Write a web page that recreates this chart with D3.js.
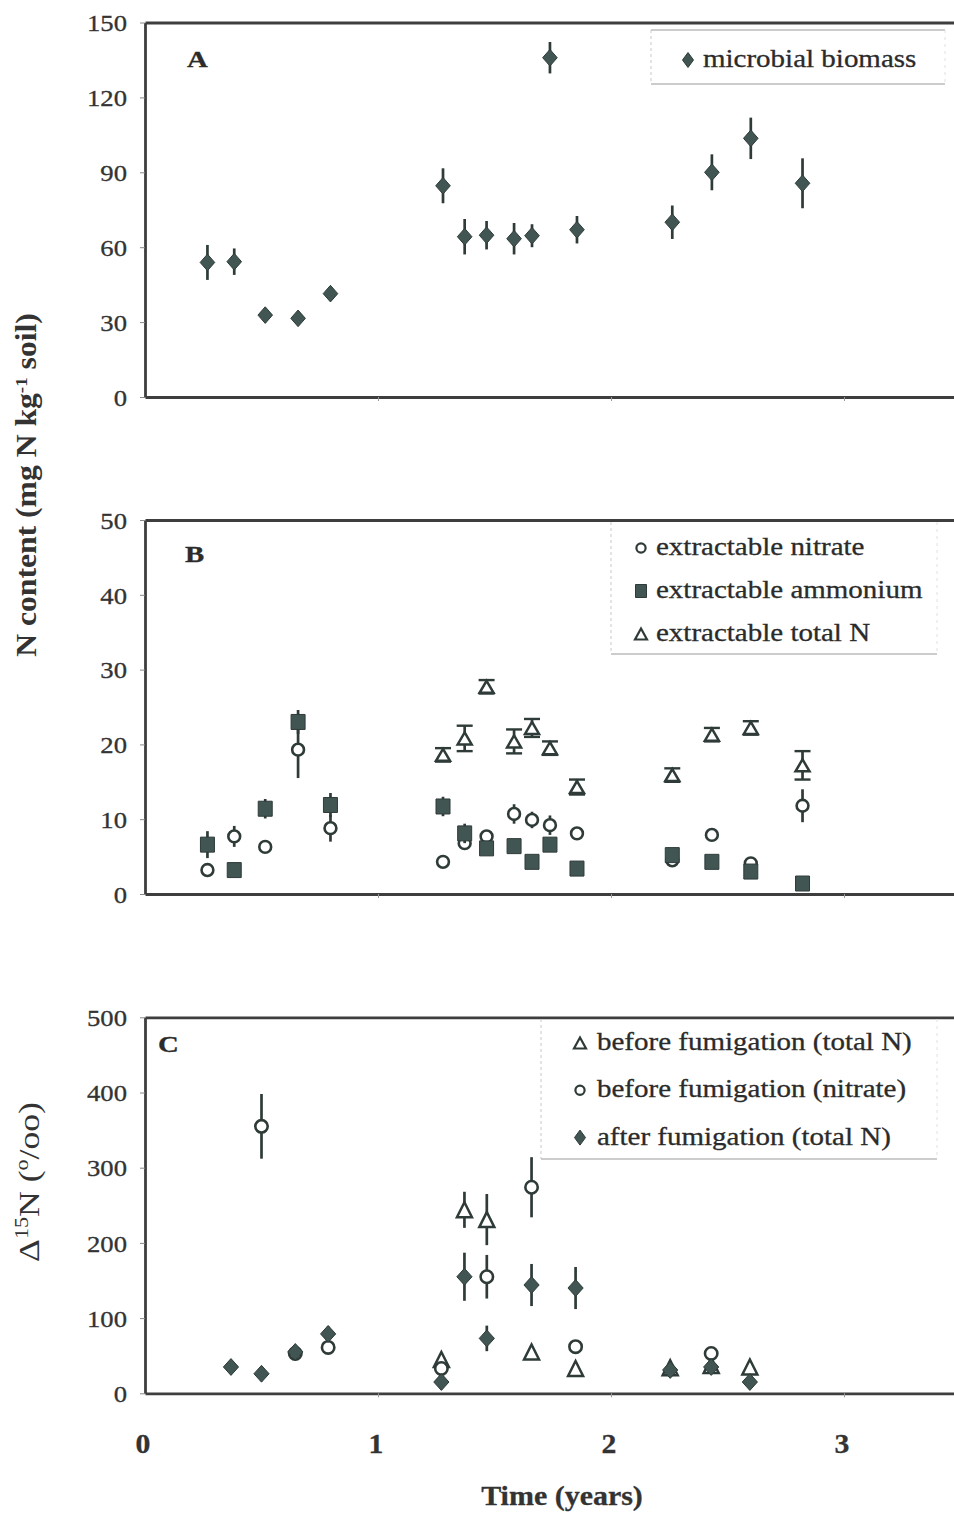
<!DOCTYPE html>
<html><head><meta charset="utf-8">
<script src="https://cdn.jsdelivr.net/npm/d3@7"></script>
<style>body{margin:0;background:#fff} svg{display:block}</style>
</head><body><svg id="c" width="954" height="1517"></svg>
<script>
// ---------- DATA ----------
// Panel A: microbial biomass N (mg N kg-1 soil)
const biomassT   = [0.268, 0.383, 0.516, 0.657, 0.796, 1.279, 1.372, 1.466, 1.584, 1.661, 1.738, 1.854, 2.263, 2.433, 2.600, 2.822];
const biomass    = [53.9, 54.2, 32.8, 31.5, 41.4, 84.6, 64.2, 64.8, 63.4, 64.6, 135.9, 67.0, 70.0, 90.0, 103.6, 85.6];
const biomassErr = [7.0, 5.3, 1.0, 1.0, 2.0, 7.0, 7.1, 5.7, 6.3, 4.6, 6.3, 5.5, 6.7, 7.2, 8.3, 10.0];

// Panel B: extractable N
const extractT     = [0.268, 0.383, 0.516, 0.657, 0.796, 1.279, 1.372, 1.466, 1.584, 1.661, 1.738, 1.854, 2.263, 2.433, 2.600, 2.822];
const nitrate      = [3.2, 7.7, 6.3, 19.3, 8.8, 4.3, 6.8, 7.7, 10.7, 9.9, 9.2, 8.1, 4.5, 7.9, 4.1, 11.8];
const nitrateErr   = [0, 1.4, 0, 3.8, 1.8, 0, 0.6, 0.5, 1.3, 1.1, 1.3, 0.6, 0, 0, 0, 2.2];
const ammonium     = [6.6, 3.2, 11.4, 23.0, 11.9, 11.7, 8.1, 6.1, 6.4, 4.3, 6.6, 3.4, 5.2, 4.3, 3.0, 1.4];
const ammoniumErr  = [1.8, 0, 1.3, 1.6, 1.6, 1.3, 1.3, 0.6, 0, 0, 0, 0, 0, 0, 0, 0];
const totalNT      = [1.279, 1.372, 1.466, 1.584, 1.661, 1.738, 1.854, 2.263, 2.433, 2.600, 2.822];
const totalN       = [18.6, 20.8, 27.7, 20.4, 22.2, 19.5, 14.3, 15.9, 21.3, 22.2, 17.2];
const totalNErr    = [0.9, 1.7, 0.9, 1.6, 1.2, 0.9, 1.0, 0.9, 0.9, 0.9, 1.9];

// Panel C: Δ15N (‰)
const beforeTotalT     = [1.272, 1.371, 1.467, 1.659, 1.848, 2.254, 2.430, 2.596];
const beforeTotal      = [45, 244, 231, 55, 33, 34, 37, 35];
const beforeTotalErr   = [0, 24, 34, 0, 0, 0, 0, 0];
const beforeNitrateT   = [0.500, 0.645, 0.786, 1.272, 1.467, 1.659, 1.848, 2.430];
const beforeNitrate    = [355, 53, 61, 33, 155, 274, 62, 53];
const beforeNitrateErr = [43, 0, 0, 0, 29, 40, 0, 0];
const afterTotalT      = [0.369, 0.500, 0.645, 0.786, 1.272, 1.371, 1.467, 1.659, 1.848, 2.254, 2.430, 2.596];
const afterTotal       = [35, 26, 55, 79, 15, 155, 73, 144, 140, 31, 35, 15];
const afterTotalErr    = [0, 0, 0, 10, 0, 32, 17, 28, 28, 0, 0, 0];

// Ticks and labels
const yTicksA = [0, 30, 60, 90, 120, 150];
const yTicksB = [0, 10, 20, 30, 40, 50];
const yTicksC = [0, 100, 200, 300, 400, 500];
const xTicks  = [0, 1, 2, 3];
const xMinorTicks = [1, 2, 3];
const legendA = ["microbial biomass"];
const legendB = ["extractable nitrate", "extractable ammonium", "extractable total N"];
const legendC = ["before fumigation (total N)", "before fumigation (nitrate)", "after fumigation (total N)"];
const panelLetters = ["A", "B", "C"];
const xTitle = "Time (years)";

// ---------- DRAWING ----------
const svg = d3.select("#c");
const FONT = "'Liberation Serif','Times New Roman',Times,serif";
const SX = 1.16;               // horizontal stretch of the scanned lettering
const INK = "#2e3b39", FILL = "#415552", AX = "#3e3e3e";

const x = d3.scaleLinear().domain([0, 3.5]).range([145, 960.5]);
const yA = d3.scaleLinear().domain([0, 150]).range([397, 22.5]);
const yB = d3.scaleLinear().domain([0, 50]).range([894, 520]);
const yC = d3.scaleLinear().domain([0, 500]).range([1393.3, 1017.3]);

function stext(g, str, px, py, opts = {}) {
  return g.append("text")
    .attr("transform", `translate(${px},${py}) scale(${opts.sx || SX},1)`)
    .attr("font-family", FONT)
    .attr("font-size", opts.size || 25)
    .attr("font-weight", opts.weight || "normal")
    .attr("text-anchor", opts.anchor || "start")
    .attr("fill", opts.fill || "#2b2b2b")
    .attr("stroke", opts.fill || "#2b2b2b").attr("stroke-width", 0.3)
    .text(str);
}

function frame(y, ticks) {
  const g = svg.append("g");
  const ax = d3.axisLeft(y).tickValues(ticks).tickSize(5).tickSizeOuter(0).tickFormat(d3.format("d"));
  const ga = g.append("g").attr("transform", `translate(${x(0)},0)`).call(ax);
  ga.select(".domain").attr("stroke", AX).attr("stroke-width", 2.8);
  ga.selectAll(".tick line").attr("stroke", "#888").attr("stroke-width", 1);
  ga.selectAll(".tick text")
    .attr("x", -18 / SX).attr("dy", "0.36em")
    .attr("transform", `scale(${SX},1)`)
    .attr("font-family", FONT).attr("font-size", 23).attr("fill", "#333")
    .attr("stroke", "#333").attr("stroke-width", 0.3);
  const bx = d3.axisBottom(x).tickValues(xMinorTicks).tickSize(4).tickSizeOuter(0).tickFormat("");
  const gb = g.append("g").attr("transform", `translate(0,${y(ticks[0])})`).call(bx);
  gb.select(".domain").attr("stroke", AX).attr("stroke-width", 2.8);
  gb.selectAll(".tick line").attr("stroke", "#999").attr("stroke-width", 1);
  const tx = d3.axisTop(x).tickValues([]).tickSizeOuter(0);
  const gt = g.append("g").attr("transform", `translate(0,${y(ticks[ticks.length - 1])})`).call(tx);
  gt.select(".domain").attr("stroke", AX).attr("stroke-width", 2.8);
  return g;
}

const gA = frame(yA, yTicksA);
const gB = frame(yB, yTicksB);
const gC = frame(yC, yTicksC);

const diamond = (w, h) => `M0,${-h}L${w},0L0,${h}L${-w},0Z`;
const tri = (w, h) => `M0,${-h / 2}L${w / 2},${h / 2}L${-w / 2},${h / 2}Z`;
const square = (w, h) => `M${-w / 2},${-h / 2}h${w}v${h}h${-w}Z`;

function errBars(g, T, V, E, y, cap) {
  const d = T.map((t, i) => ({ t, v: V[i], e: E[i] })).filter(d => d.e > 0);
  g.selectAll(null).data(d).join("line")
    .attr("x1", d => x(d.t)).attr("x2", d => x(d.t))
    .attr("y1", d => y(d.v - d.e)).attr("y2", d => y(d.v + d.e))
    .attr("stroke", INK).attr("stroke-width", 2.7);
  if (cap) {
    [-1, 1].forEach(sgn => {
      g.selectAll(null).data(d).join("line")
        .attr("x1", d => x(d.t) - cap / 2).attr("x2", d => x(d.t) + cap / 2)
        .attr("y1", d => y(d.v + sgn * d.e)).attr("y2", d => y(d.v + sgn * d.e))
        .attr("stroke", INK).attr("stroke-width", 2.4);
    });
  }
}

function marks(g, T, V, y, path, filled) {
  g.selectAll(null).data(T.map((t, i) => ({ t, v: V[i] }))).join("path")
    .attr("transform", d => `translate(${x(d.t)},${y(d.v)})`)
    .attr("d", path)
    .attr("fill", filled ? FILL : "#fff")
    .attr("stroke", INK)
    .attr("stroke-width", filled ? 1 : 2.5);
}
function circles(g, T, V, y, r) {
  g.selectAll(null).data(T.map((t, i) => ({ t, v: V[i] }))).join("circle")
    .attr("cx", d => x(d.t)).attr("cy", d => y(d.v)).attr("r", r)
    .attr("fill", "#fff").attr("stroke", INK).attr("stroke-width", 2.6);
}

// Panel A
errBars(gA, biomassT, biomass, biomassErr, yA);
marks(gA, biomassT, biomass, yA, diamond(7.3, 8.3), true);

// Panel B
errBars(gB, extractT, nitrate, nitrateErr, yB);
circles(gB, extractT, nitrate, yB, 5.9);
errBars(gB, extractT, ammonium, ammoniumErr, yB);
marks(gB, extractT, ammonium, yB, square(14, 15), true);
errBars(gB, totalNT, totalN, totalNErr, yB, 16);
marks(gB, totalNT, totalN, yB, tri(14, 12), false);

// Panel C
errBars(gC, beforeTotalT, beforeTotal, beforeTotalErr, yC);
marks(gC, beforeTotalT, beforeTotal, yC, tri(15, 15), false);
errBars(gC, beforeNitrateT, beforeNitrate, beforeNitrateErr, yC);
circles(gC, beforeNitrateT, beforeNitrate, yC, 6.2);
errBars(gC, afterTotalT, afterTotal, afterTotalErr, yC);
marks(gC, afterTotalT, afterTotal, yC, diamond(7.6, 8.4), true);

// Panel letters
stext(gA, panelLetters[0], 187, 67, { size: 24, weight: "bold", sx: 1.2 });
stext(gB, panelLetters[1], 185, 562, { size: 24, weight: "bold", sx: 1.2 });
stext(gC, panelLetters[2], 158, 1052, { size: 24, weight: "bold", sx: 1.2 });

// Legends
function legendBox(g, x0, x1, yTop, yBot, drawTop) {
  const s = "#9a9a9a";
  if (drawTop) g.append("line").attr("x1", x0).attr("x2", x1).attr("y1", yTop).attr("y2", yTop).attr("stroke", s).attr("stroke-width", 1.2);
  g.append("line").attr("x1", x0).attr("x2", x1).attr("y1", yBot).attr("y2", yBot).attr("stroke", s).attr("stroke-width", 1.2);
  g.append("line").attr("x1", x0).attr("x2", x0).attr("y1", yTop).attr("y2", yBot).attr("stroke", "#c8c8c8").attr("stroke-width", 1).attr("stroke-dasharray", "3,3");
  g.append("line").attr("x1", x1).attr("x2", x1).attr("y1", yTop).attr("y2", yBot).attr("stroke", "#e0e0e0").attr("stroke-width", 1).attr("stroke-dasharray", "3,4");
}
function legSym(g, kind, cx, cy) {
  if (kind === "circle") g.append("circle").attr("cx", cx).attr("cy", cy).attr("r", 4.6).attr("fill", "#fff").attr("stroke", INK).attr("stroke-width", 2.2);
  else {
    const p = kind === "diamond" ? diamond(5.5, 7.5) : kind === "square" ? square(11, 13) : tri(12, 11);
    g.append("path").attr("transform", `translate(${cx},${cy})`).attr("d", p)
      .attr("fill", kind === "triangle" ? "#fff" : FILL).attr("stroke", INK).attr("stroke-width", kind === "triangle" ? 2.2 : 1);
  }
}
legendBox(gA, 651, 945, 30, 84, true);
legSym(gA, "diamond", 688, 60);
stext(gA, legendA[0], 703, 67);

legendBox(gB, 611, 937, 522, 654, false);
const symB = ["circle", "square", "triangle"];
legendB.forEach((s, i) => {
  legSym(gB, symB[i], 641, 548 + i * 43);
  stext(gB, s, 656, 555 + i * 43);
});

legendBox(gC, 541, 937, 1019, 1159, false);
const symC = ["triangle", "circle", "diamond"];
legendC.forEach((s, i) => {
  legSym(gC, symC[i], 580, 1043 + i * 47.3);
  stext(gC, s, 597, 1050 + i * 47.3);
});

// X tick labels and title
xTicks.forEach(v => stext(svg, String(v), x(v) - 2, 1453, { size: 27, weight: "bold", anchor: "middle", fill: "#333", sx: 1.1 }));
stext(svg, xTitle, 562, 1505, { size: 27, weight: "bold", anchor: "middle", fill: "#333", sx: 1.11 });

// Y titles (rotated)
function yTitle(build, cx, cy, len, size, weight) {
  const t = svg.append("text").attr("font-family", FONT).attr("font-size", size)
    .attr("font-weight", weight).attr("fill", "#333").attr("text-anchor", "middle");
  build(t);
  const nat = t.node().getComputedTextLength();
  t.attr("transform", `translate(${cx},${cy}) rotate(-90) scale(${len / nat},1.1)`);
}
yTitle(t => {
  t.append("tspan").text("N content (mg N kg");
  t.append("tspan").attr("font-size", "60%").attr("dy", "-0.55em").text("-1");
  t.append("tspan").attr("dy", "0.33em").text(" soil)");
}, 36, 485, 344, 26, "bold");
yTitle(t => {
  t.append("tspan").text("Δ");
  t.append("tspan").attr("font-size", "62%").attr("dy", "-0.6em").text("15");
  t.append("tspan").attr("dy", "0.37em").text("N (");
  t.append("tspan").attr("font-size", "62%").attr("dy", "-0.6em").text("o");
  t.append("tspan").attr("dy", "0.37em").text("/oo)");
}, 39, 1182, 160, 27, "normal");
</script></body></html>
